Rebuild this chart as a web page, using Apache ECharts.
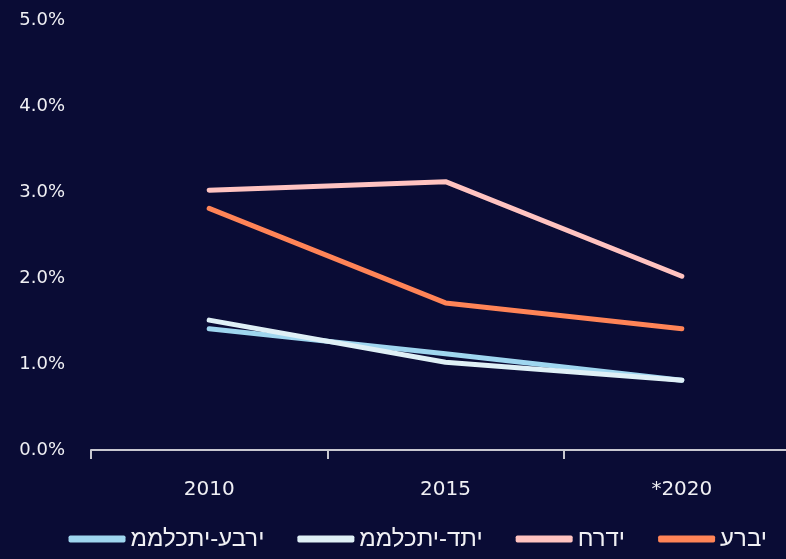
<!DOCTYPE html>
<html><head><meta charset="utf-8">
<script src="https://cdn.jsdelivr.net/npm/echarts@6/dist/echarts.min.js"></script>
<style>html,body{margin:0;padding:0;background:#0a0c35;}#c{width:786px;height:559px;}</style>
</head><body><div id="c"></div>
<script>
const categories = ['2010', '2015', '*2020'];
const yTicks = [0, 1, 2, 3, 4, 5];
const seriesNames = ['ממלכתי-עברי', 'ממלכתי-דתי', 'חרדי', 'ערבי'];
const stateHebrew = [1.41, 1.12, 0.81];
const stateReligious = [1.51, 1.02, 0.81];
const haredi = [3.02, 3.12, 2.02];
const arab = [2.81, 1.71, 1.41];
const colors = ['#9fd6ef', '#dff0f6', '#ffc3c0', '#ff8457'];
const values = [stateHebrew, stateReligious, haredi, arab];

const chart = echarts.init(document.getElementById('c'));
chart.setOption({
  backgroundColor: '#0a0c35',
  animation: false,
  grid: { left: 91, right: -14, top: 20, bottom: 109, containLabel: false, outerBoundsMode: 'none' },
  xAxis: {
    type: 'category', data: categories, boundaryGap: true,
    axisLine: { lineStyle: { color: '#c8c8d0', width: 2 } },
    axisTick: { show: true, interval: 0, length: 9, lineStyle: { color: '#c8c8d0', width: 2 } },
    axisLabel: { color: '#f0f0f4', fontSize: 20, fontFamily: 'DejaVu Sans', margin: 30 }
  },
  yAxis: {
    type: 'value', min: yTicks[0], max: yTicks[yTicks.length - 1], interval: 1,
    splitLine: { show: false }, axisLine: { show: false }, axisTick: { show: false },
    axisLabel: { color: '#f0f0f4', fontSize: 18, fontFamily: 'DejaVu Sans', margin: 26,
      formatter: v => v.toFixed(1) + '%' }
  },
  legend: {
    bottom: 3, right: 14, itemWidth: 57, itemHeight: 7, itemGap: 33, icon: 'roundRect',
    textStyle: { color: '#f0f0f4', fontSize: 24, fontFamily: 'Liberation Sans, sans-serif' },
    formatter: n => '\u202D' + n + '\u202C',
    data: seriesNames
  },
  series: seriesNames.map((n, i) => ({
    name: n, type: 'line', data: values[i], showSymbol: false, symbol: 'none',
    lineStyle: { color: colors[i], width: 5, cap: 'round', join: 'round' },
    itemStyle: { color: colors[i] }
  }))
});
</script></body></html>
